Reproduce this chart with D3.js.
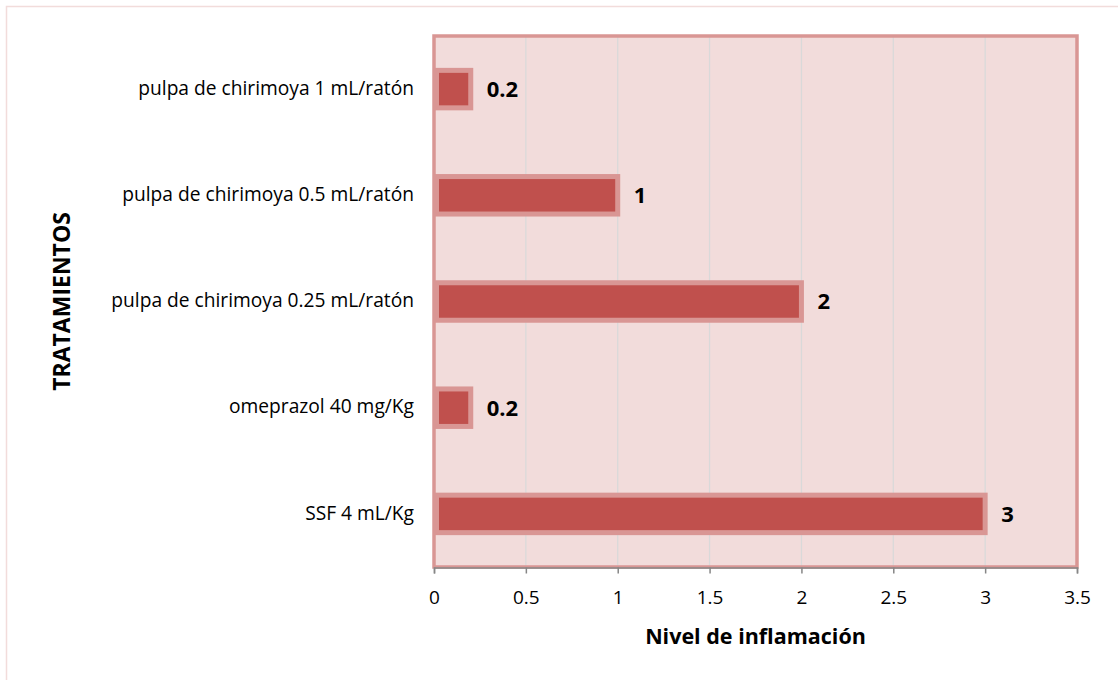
<!DOCTYPE html>
<html>
<head>
<meta charset="utf-8">
<script src="https://cdn.jsdelivr.net/npm/d3@7"></script>
<style>
  html, body { margin: 0; padding: 0; background: #ffffff; }
  svg { display: block; font-family: "Open Sans", Lato, sans-serif; }
</style>
</head>
<body>
<svg id="chart" width="1118" height="680"></svg>
<script>
// Treatments, listed top to bottom as shown on the vertical axis
const categories = [
  "pulpa de chirimoya 1 mL/ratón",
  "pulpa de chirimoya 0.5 mL/ratón",
  "pulpa de chirimoya 0.25 mL/ratón",
  "omeprazol 40 mg/Kg",
  "SSF 4 mL/Kg"
];
const values = [0.2, 1, 2, 0.2, 3];
const valueLabels = ["0.2", "1", "2", "0.2", "3"];
const xTicks = [0, 0.5, 1, 1.5, 2, 2.5, 3, 3.5];
const xTickLabels = ["0", "0.5", "1", "1.5", "2", "2.5", "3", "3.5"];
const xTitle = "Nivel de inflamación";
const yTitle = "TRATAMIENTOS";

const FONT = "'Open Sans', Lato, sans-serif";
const svg = d3.select("#chart");
const W = 1118, H = 680;
const plot = { left: 434, top: 36, right: 1077, bottom: 567 };

// Outer chart frame
svg.append("rect")
  .attr("x", 6.5).attr("y", 6.5)
  .attr("width", W + 20).attr("height", H + 20)
  .attr("fill", "#ffffff")
  .attr("stroke", "#f2dcdb").attr("stroke-width", 1.5);

const x = d3.scaleLinear().domain([0, 3.5]).range([plot.left, plot.right]);
const y = d3.scaleBand().domain(categories).range([plot.top, plot.bottom]).paddingInner(0.6).paddingOuter(0.3);

// Plot area background
svg.append("rect")
  .attr("x", plot.left).attr("y", plot.top)
  .attr("width", plot.right - plot.left).attr("height", plot.bottom - plot.top)
  .attr("fill", "#f2dcdb");

// Vertical gridlines
svg.append("g")
  .selectAll("line")
  .data(xTicks.slice(1, -1))
  .join("line")
  .attr("x1", d => x(d)).attr("x2", d => x(d))
  .attr("y1", plot.top).attr("y2", plot.bottom)
  .attr("stroke", "#d9d9d9").attr("stroke-width", 1.3);

// Plot area border
svg.append("rect")
  .attr("x", plot.left).attr("y", plot.top)
  .attr("width", plot.right - plot.left).attr("height", plot.bottom - plot.top)
  .attr("fill", "none")
  .attr("stroke", "#d99694").attr("stroke-width", 3.5);

// Bars
svg.append("g")
  .selectAll("rect")
  .data(categories)
  .join("rect")
  .attr("x", x(0) + 2.5)
  .attr("y", d => y(d) + 2.5)
  .attr("width", (d, i) => x(values[i]) - x(0) - 2.5)
  .attr("height", y.bandwidth() - 5)
  .attr("fill", "#c0504d")
  .attr("stroke", "#d99694").attr("stroke-width", 5);

// Value labels
svg.append("g")
  .selectAll("text")
  .data(categories)
  .join("text")
  .attr("x", (d, i) => x(values[i]) + 16)
  .attr("y", d => y(d) + y.bandwidth() / 2)
  .attr("dy", "0.36em")
  .attr("font-size", 22).attr("font-weight", "bold")
  .attr("fill", "#000")
  .text((d, i) => valueLabels[i]);

// Category labels
svg.append("g")
  .selectAll("text")
  .data(categories)
  .join("text")
  .attr("x", plot.left - 20)
  .attr("y", d => y(d) + y.bandwidth() / 2)
  .attr("dy", "0.3em")
  .attr("text-anchor", "end")
  .attr("font-size", 19.2)
  .attr("fill", "#000")
  .text(d => d);

// Horizontal axis
const xAxis = d3.axisBottom(x)
  .tickValues(xTicks)
  .tickFormat((d, i) => xTickLabels[i])
  .tickSize(6)
  .tickPadding(17);
const gx = svg.append("g")
  .attr("transform", `translate(0,${plot.bottom + 0.5})`)
  .call(xAxis);
gx.select(".domain").attr("stroke", "#868686").attr("stroke-width", 1.5);
gx.selectAll(".tick line").attr("stroke", "#868686").attr("stroke-width", 1.5);
gx.selectAll(".tick text")
  .attr("font-size", 19).attr("fill", "#000")
  .attr("font-family", FONT);

// Axis titles
svg.append("text")
  .attr("x", (plot.left + plot.right) / 2)
  .attr("y", 644)
  .attr("text-anchor", "middle")
  .attr("font-size", 21.5).attr("font-weight", "bold")
  .text(xTitle);

svg.append("text")
  .attr("transform", `translate(70,${(plot.top + plot.bottom) / 2}) rotate(-90)`)
  .attr("text-anchor", "middle")
  .attr("font-size", 23).attr("font-weight", "bold")
  .text(yTitle);
</script>
</body>
</html>
